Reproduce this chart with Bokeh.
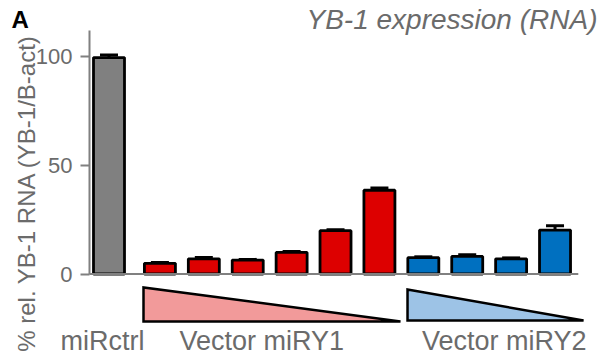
import math
from bokeh.plotting import figure
from bokeh.models import ColumnDataSource, Range1d, FixedTicker, Whisker, TeeHead, Label
from bokeh.embed import file_html
from bokeh.resources import INLINE

# Relative YB-1 RNA levels (% of miRctrl), mean and upper error
ctrl_values = [99.5]
ctrl_errors = [1.2]
miry1_values = [4.9, 7.0, 6.4, 9.9, 19.9, 38.5]
miry1_errors = [0.4, 0.6, 0.3, 0.5, 0.4, 1.0]
miry2_values = [7.5, 8.1, 7.0, 20.2]
miry2_errors = [0.4, 0.8, 0.4, 2.0]
group_labels = ["miRctrl", "Vector miRY1", "Vector miRY2"]
y_ticks = [0, 50, 100]

FONT = "Liberation Sans"
TEXT = "#6b6b6b"
AXIS = "#808080"
GRAY, RED, BLUE = "#808080", "#dd0000", "#0070c0"
PINK, LIGHTBLUE = "#f29a9a", "#9dc3e6"

# bar positions: control first, then the two dilution series side by side
gap = 1.16
n1, n2 = len(miry1_values), len(miry2_values)
x_ctrl = [0.0]
x_miry1 = [gap + i for i in range(n1)]
x_miry2 = [gap + n1 + i for i in range(n2)]

xs = x_ctrl + x_miry1 + x_miry2
tops = ctrl_values + miry1_values + miry2_values
errs = ctrl_errors + miry1_errors + miry2_errors
colors = [GRAY] * 1 + [RED] * n1 + [BLUE] * n2
src = ColumnDataSource(dict(x=xs, top=tops, upper=[t + e for t, e in zip(tops, errs)],
                            color=colors))

AXIS_X = -0.444          # where the value axis stands
BASE_END = 10.69         # right end of the zero line

p = figure(width=598, height=360, x_range=Range1d(-2.4715, 11.1503),
           y_range=Range1d(-39.77, 125.75), x_axis_location=None,
           min_border_left=0, min_border_right=0, min_border_top=0,
           min_border_bottom=0, toolbar_location=None, output_backend="svg",
           outline_line_color=None, background_fill_color="white",
           border_fill_color="white")
p.xgrid.visible = False
p.ygrid.visible = False

ax = p.yaxis[0]
ax.fixed_location = AXIS_X
ax.ticker = FixedTicker(ticks=y_ticks)
ax.bounds = (0, 111.95)
ax.axis_line_color = AXIS
ax.axis_line_width = 2
ax.major_tick_line_color = AXIS
ax.major_tick_line_width = 2
ax.major_tick_out = 9
ax.major_tick_in = 0
ax.minor_tick_line_color = None
ax.major_label_text_font = FONT
ax.major_label_text_font_size = "22px"
ax.major_label_text_color = TEXT
ax.major_label_standoff = 8

# error bars (upper only)
p.add_layout(Whisker(source=src, base="x", lower="top", upper="upper",
                     dimension="height", line_color="black", line_width=3,
                     upper_head=TeeHead(size=18, line_color="black", line_width=3),
                     lower_head=None))

p.vbar(x="x", top="top", bottom=0, width=0.706, source=src, fill_color="color",
       line_color="black", line_width=2.8)

# zero line
p.segment(x0=[AXIS_X], y0=[0], x1=[BASE_END], y1=[0], line_color=AXIS, line_width=2)

# dose wedges under the two series
p.patch([0.786, 0.786, 6.64], [-6.2, -21.8, -21.8], fill_color=PINK,
        line_color="black", line_width=2.5, line_join="miter")
p.patch([6.80, 6.80, 10.81], [-7.1, -21.4, -21.4], fill_color=LIGHTBLUE,
        line_color="black", line_width=2.5, line_join="miter")

def text(x, y, s, size, align="left", style="normal", color=TEXT, angle=0.0,
         baseline="alphabetic"):
    p.add_layout(Label(x=x, y=y, text=s, text_align=align, text_baseline=baseline,
                       text_font=FONT, text_font_size=size, text_font_style=style,
                       text_color=color, angle=angle))

# group captions
text(-1.105, -31.0, group_labels[0], "27px")
text(1.606, -31.0, group_labels[1], "27px")
text(10.877, -31.0, group_labels[2], "27px", align="right")

# value axis title
text(-1.89, 37.2, "% rel. YB-1 RNA (YB-1/B-act)", "24px", align="center",
     angle=math.pi / 2)

# panel title and letter
text(11.127, 117.0, "YB-1 expression (RNA)", "28px", align="right", style="italic")
text(-2.221, 117.0, "A", "24px", style="bold", color="black")

open("out.html", "w").write(file_html(p, INLINE))
